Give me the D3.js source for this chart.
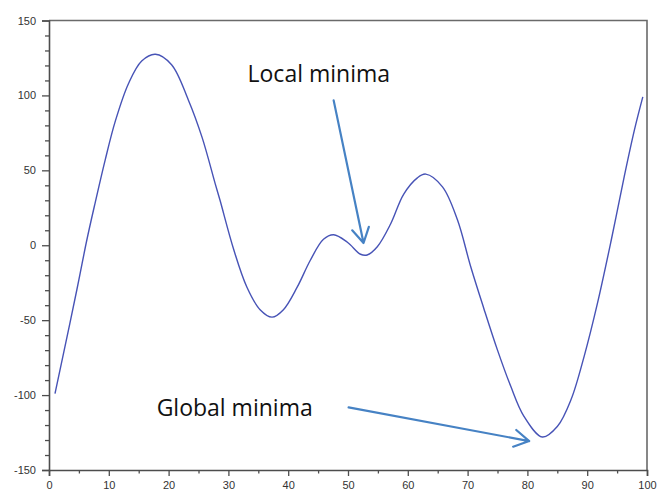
<!DOCTYPE html>
<html>
<head>
<meta charset="utf-8">
<script src="https://cdn.jsdelivr.net/npm/d3@7"></script>
<style>
  html, body { margin: 0; padding: 0; background: #fff; }
  svg { display: block; }
</style>
</head>
<body>
<svg id="chart" width="658" height="497"></svg>
<script>
// ---- data ----
const xValues = [1, 3.5, 5, 6.3, 7.7, 9.4, 11.1, 13.3, 15.5, 17.8, 20.5, 23.3, 25.6, 27.8, 28.6, 30.9,
  33.1, 35.3, 37.3, 39.2, 41.5, 43.7, 45.9, 47.6, 49.9, 52.1, 53.2, 54.9, 57.1, 59.3, 61.6, 63.0,
  65.8, 68.3, 70.5, 72.7, 75.0, 77.2, 79.4, 82.5, 85.0, 87.3, 89.5, 91.7, 94.0, 96.2, 97.9, 99.3];
const yValues = [-99, -52, -23, 3, 28, 57, 83, 108, 123, 127.5, 120.5, 97, 72, 41, 30, -3,
  -28, -43, -48, -43, -28, -10, 4, 7, 2, -6, -6.5, -1, 14, 34, 45, 47.5,
  39, 17, -14, -42, -70, -94, -114, -128, -121, -103, -74, -39, 3, 46, 77, 99];

const xTicks = [0, 10, 20, 30, 40, 50, 60, 70, 80, 90, 100];
const xMinorTicks = [5, 15, 25, 35, 45, 55, 65, 75, 85, 95];
const yTicks = [-150, -100, -50, 0, 50, 100, 150];
const yMinorTicks = [-140, -130, -120, -110, -90, -80, -70, -60, -40, -30, -20, -10,
  10, 20, 30, 40, 60, 70, 80, 90, 110, 120, 130, 140];

const annotationLabels = ["Local minima", "Global minima"];
const annotationTextAt = [[33.2, 108.7], [18.0, -114.0]];
const annotationFrom = [[47.6, 96.7], [50.1, -108.2]];
const annotationTo = [[52.6, 1.5], [80.3, -130.7]];

// ---- layout ----
const W = 658, H = 497;
const margin = { left: 49, right: 11, top: 20.5, bottom: 27 };
const svg = d3.select("#chart");

const x = d3.scaleLinear().domain([0, 100]).range([margin.left, W - margin.right]);
const y = d3.scaleLinear().domain([-150, 150]).range([H - margin.bottom, margin.top]);

const axisColor = "#4d4d4d";
const fmt = d => String(d);

// frame (top & right)
svg.append("path")
  .attr("d", `M${x(0)},${y(150)}H${x(100)}V${y(-150)}`)
  .attr("fill", "none").attr("stroke", "#6a6a6a").attr("stroke-width", 1.6);

// x axis
const gx = svg.append("g").attr("transform", `translate(0,${y(-150)})`);
gx.call(d3.axisBottom(x).tickValues(xTicks).tickSize(6).tickPadding(5).tickFormat(fmt));
const gxm = svg.append("g").attr("transform", `translate(0,${y(-150)})`);
gxm.call(d3.axisBottom(x).tickValues(xMinorTicks).tickSize(3.5).tickFormat(""));
gxm.select(".domain").remove();

// y axis
const gy = svg.append("g").attr("transform", `translate(${x(0)},0)`);
gy.call(d3.axisLeft(y).tickValues(yTicks).tickSize(7).tickPadding(6).tickFormat(fmt));
const gym = svg.append("g").attr("transform", `translate(${x(0)},0)`);
gym.call(d3.axisLeft(y).tickValues(yMinorTicks).tickSize(4).tickFormat(""));
gym.select(".domain").remove();

svg.selectAll(".domain").attr("stroke", axisColor).attr("stroke-width", 1.6);
svg.selectAll(".tick line").attr("stroke", axisColor).attr("stroke-width", 1.3);
svg.selectAll(".tick text")
  .attr("font-family", "'Liberation Sans', Arial, sans-serif")
  .attr("font-size", 11).attr("fill", "#333");

// curve
const pts = xValues.map((v, i) => [v, yValues[i]]);
const line = d3.line().x(d => x(d[0])).y(d => y(d[1])).curve(d3.curveCatmullRom.alpha(0.5));
svg.append("path").datum(pts)
  .attr("d", line)
  .attr("fill", "none").attr("stroke", "#4753b6").attr("stroke-width", 1.4);

// annotations
const arrowColor = "#4682c4";
annotationLabels.forEach((label, i) => {
  svg.append("text")
    .attr("x", x(annotationTextAt[i][0])).attr("y", y(annotationTextAt[i][1]))
    .attr("font-family", "'Open Sans', sans-serif")
    .attr("font-size", 23).attr("fill", "#111")
    .text(label);

  const x0 = x(annotationFrom[i][0]), y0 = y(annotationFrom[i][1]);
  const x1 = x(annotationTo[i][0]), y1 = y(annotationTo[i][1]);
  const back = Math.atan2(y0 - y1, x0 - x1);
  const len = 17, spread = Math.PI / 6;
  const w1 = [x1 + len * Math.cos(back + spread), y1 + len * Math.sin(back + spread)];
  const w2 = [x1 + len * Math.cos(back - spread), y1 + len * Math.sin(back - spread)];
  svg.append("path")
    .attr("d", `M${x0},${y0}L${x1},${y1}M${w1[0]},${w1[1]}L${x1},${y1}L${w2[0]},${w2[1]}`)
    .attr("fill", "none").attr("stroke", arrowColor).attr("stroke-width", 2.2)
    .attr("stroke-linecap", "round").attr("stroke-linejoin", "round");
});
</script>
</body>
</html>
